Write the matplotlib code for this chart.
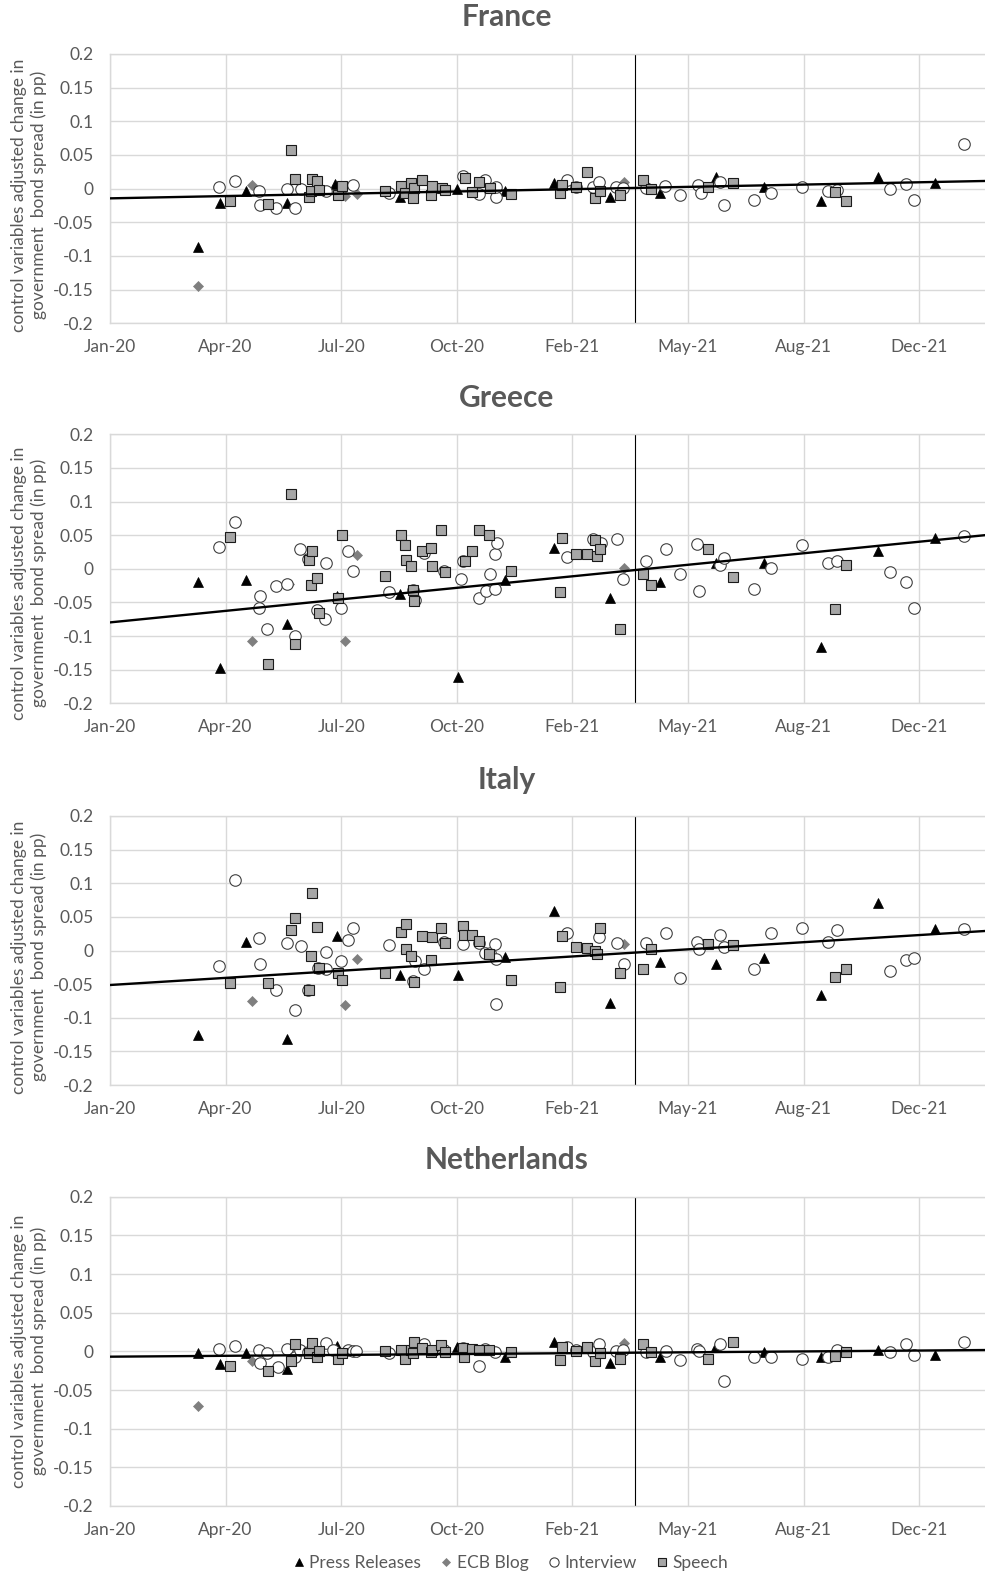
import matplotlib
matplotlib.use("Agg")
import matplotlib.pyplot as plt
from matplotlib.lines import Line2D

plt.rcParams['font.family'] = ['Lato', 'DejaVu Sans']

# ---------------- data (x = days since 1 Jan 2020) ----------------
x_ticks = [0, 100, 200, 300, 400, 500, 600, 700]
x_tick_labels = ["Jan-20", "Apr-20", "Jul-20", "Oct-20", "Feb-21", "May-21", "Aug-21", "Dec-21"]
y_ticks = [0.2, 0.15, 0.1, 0.05, 0, -0.05, -0.1, -0.15, -0.2]
y_tick_labels = ["0.2", "0.15", "0.1", "0.05", "0", "-0.05", "-0.1", "-0.15", "-0.2"]
x_max = 757
event_line_x = 454.4
trend_x = [0, 757]

countries = ["France", "Greece", "Italy", "Netherlands"]
series_names = ["Press Releases", "ECB Blog", "Interview", "Speech"]

# France
fr_press_x = [76, 95, 118, 153, 195, 251, 300, 342, 384, 433, 476, 524, 566, 615, 664, 714]
fr_press_y = [-0.086, -0.022, -0.003, -0.022, 0.007, -0.013, -0.001, -0.003, 0.009, -0.013, -0.007, 0.017, 0.002, -0.018, 0.017, 0.008]
fr_blog_x = [76, 123, 203, 214, 445]
fr_blog_y = [-0.144, 0.005, -0.011, -0.008, 0.010]
fr_int_x = [94, 108, 129, 130, 144, 153, 160, 165, 187, 210, 241, 305, 319, 324, 334, 334, 395, 403, 418, 423,
            438, 444, 464, 480, 493, 509, 511, 528, 531, 557, 572, 599, 621, 629, 675, 689, 696, 739]
fr_int_y = [0.003, 0.012, -0.003, -0.024, -0.029, -0.001, -0.029, -0.001, -0.003, 0.006, -0.007, 0.019, -0.008, 0.013, -0.012, 0.002, 0.013, 0.003, 0.002, 0.010,
            0.002, 0.001, 0.001, 0.004, -0.010, 0.006, -0.006, 0.010, -0.025, -0.017, -0.006, 0.003, -0.003, -0.002, -0.001, 0.007, -0.017, 0.067]
fr_sp_x = [104, 137, 157, 160, 172, 174, 175, 179, 181, 197, 201, 238, 252, 255, 260, 263, 262, 270, 278, 279,
           287, 290, 307, 313, 319, 329, 347, 389, 391, 403, 413, 420, 424, 441, 461, 468, 517, 539, 627, 637]
fr_sp_y = [-0.019, -0.023, 0.057, 0.014, -0.012, -0.003, 0.014, 0.011, -0.002, -0.009, 0.004, -0.003, 0.004, -0.006, 0.009, 0.0005, -0.014, 0.013, -0.009, 0.004,
           0.0005, -0.002, 0.016, -0.005, 0.010, 0.0015, -0.008, -0.007, 0.006, 0.002, 0.024, -0.014, -0.003, -0.010, 0.013, -0.0005, 0.003, 0.008, -0.0045, -0.018]
fr_trend_y = [-0.0144, 0.0114]

# Greece
gr_press_x = [76, 95, 118, 153, 196, 251, 301, 342, 384, 433, 476, 524, 566, 615, 664, 714]
gr_press_y = [-0.020, -0.148, -0.017, -0.082, -0.040, -0.038, -0.161, -0.017, 0.031, -0.043, -0.020, 0.008, 0.008, -0.116, 0.026, 0.046]
gr_blog_x = [123, 155, 203, 214, 445]
gr_blog_y = [-0.108, -0.023, -0.108, 0.021, 0.001]
gr_int_x = [94, 108, 130, 129, 136, 144, 153, 160, 164, 171, 179, 186, 187, 200, 206, 210, 241, 262, 264, 272,
            289, 304, 305, 319, 325, 329, 333, 333, 335, 395, 418, 425, 439, 444, 464, 481, 493, 508, 510, 528,
            531, 557, 572, 599, 621, 629, 675, 689, 696, 739]
gr_int_y = [0.033, 0.069, -0.040, -0.059, -0.089, -0.025, -0.022, -0.0995, 0.029, 0.014, -0.062, -0.074, 0.009, -0.058, 0.027, -0.003, -0.035, -0.031, -0.046, 0.023,
            -0.003, -0.015, 0.011, -0.044, -0.033, -0.007, 0.022, -0.030, 0.038, 0.017, 0.044, 0.039, 0.045, -0.015, 0.012, 0.030, -0.008, 0.037, -0.033, 0.006,
            0.016, -0.030, 0.001, 0.035, 0.009, 0.012, -0.005, -0.020, -0.058, 0.0495]
gr_sp_x = [104, 137, 157, 160, 172, 174, 175, 179, 181, 197, 201, 238, 252, 255, 256, 260, 262, 263, 270, 278,
           279, 286, 290, 307, 313, 319, 328, 347, 389, 391, 403, 413, 420, 421, 424, 441, 461, 468, 517, 539,
           627, 637]
gr_sp_y = [0.048, -0.142, 0.111, -0.112, 0.013, -0.024, 0.027, -0.013, -0.065, -0.044, 0.051, -0.010, 0.051, 0.036, 0.013, 0.0045, -0.032, -0.0485, 0.027, 0.031,
           0.0045, 0.057, -0.0055, 0.011, 0.027, 0.057, 0.0505, -0.003, -0.035, 0.0465, 0.022, 0.022, 0.043, 0.019, 0.029, -0.089, -0.008, -0.024, 0.030, -0.012,
           -0.060, 0.005]
gr_trend_y = [-0.0797, 0.050]

# Italy
it_press_x = [76, 118, 153, 196, 251, 301, 342, 384, 433, 476, 524, 566, 615, 664, 714]
it_press_y = [-0.125, 0.012, -0.131, 0.022, -0.036, -0.037, -0.010, 0.059, -0.078, -0.017, -0.020, -0.011, -0.066, 0.070, 0.032]
it_blog_x = [123, 203, 214, 445]
it_blog_y = [-0.075, -0.081, -0.013, 0.0095]
it_int_x = [94, 108, 129, 130, 144, 153, 160, 165, 171, 180, 187, 187, 200, 206, 210, 241, 262, 264, 272, 289,
            305, 319, 324, 329, 333, 334, 334, 395, 423, 439, 445, 464, 481, 493, 508, 510, 528, 531, 557, 572,
            599, 621, 629, 675, 689, 696, 739]
it_int_y = [-0.023, 0.105, 0.018, -0.020, -0.059, 0.011, -0.088, 0.007, -0.058, -0.0265, -0.002, -0.028, -0.015, 0.016, 0.034, 0.008, -0.045, -0.016, -0.0275, 0.013,
            0.009, 0.011, -0.003, -0.004, 0.009, -0.079, -0.012, 0.0265, 0.0195, 0.0105, -0.020, 0.0105, 0.0265, -0.041, 0.013, 0.0015, 0.023, 0.0045, -0.028, 0.0255,
            0.033, 0.013, 0.0305, -0.031, -0.0145, -0.011, 0.032]
it_sp_x = [104, 137, 157, 160, 172, 174, 175, 179, 181, 197, 201, 238, 252, 256, 256, 260, 263, 270, 278, 279,
           286, 290, 305, 306, 313, 319, 328, 347, 389, 391, 403, 413, 420, 421, 424, 441, 461, 468, 517, 539,
           627, 637]
it_sp_y = [-0.048, -0.049, 0.031, 0.049, -0.059, -0.008, 0.085, 0.035, -0.0265, -0.034, -0.044, -0.034, 0.027, 0.039, 0.002, -0.008, -0.047, 0.022, -0.014, 0.0195,
           0.034, 0.0115, 0.037, 0.023, 0.023, 0.0145, -0.0057, -0.044, -0.054, 0.021, 0.0045, 0.004, -0.0005, -0.005, 0.033, -0.033, -0.028, 0.0015, 0.009, 0.008,
           -0.039, -0.028]
it_trend_y = [-0.0513, 0.029]

# Netherlands
nl_press_x = [76, 95, 118, 153, 196, 300, 342, 384, 433, 476, 524, 566, 615, 664, 714]
nl_press_y = [-0.0026, -0.017, -0.0017, -0.023, 0.007, 0.005, -0.007, 0.0125, -0.0147, -0.0078, 0.007, -0.0004, -0.0078, 0.0017, -0.0047]
nl_blog_x = [76, 123, 155, 203, 214, 445]
nl_blog_y = [-0.0707, -0.0125, 0.0026, -0.0026, -0.0004, 0.0103]
nl_int_x = [94, 108, 129, 130, 136, 145, 153, 160, 164, 171, 187, 193, 206, 210, 213, 241, 272, 289, 305, 319,
            324, 333, 395, 403, 418, 423, 438, 444, 464, 481, 493, 508, 510, 528, 531, 557, 572, 599, 621, 629,
            675, 689, 696, 739]
nl_int_y = [0.0026, 0.007, 0.0017, -0.0155, -0.0026, -0.0198, 0.003, -0.007, 0.0017, -0.0004, 0.0103, 0.0017, 0.0017, 0.0004, 0.0004, -0.0026, 0.0095, 0.0017, 0.004, -0.019,
            0.0026, -0.0004, 0.006, 0.0017, -0.0004, 0.009, 0.0009, 0.0017, -0.0013, 0.0004, -0.011, 0.003, 0.0004, 0.0095, -0.038, -0.0069, -0.0069, -0.0099, -0.0078, 0.0017,
            -0.0013, 0.009, -0.0047, 0.0116]
nl_sp_x = [104, 137, 157, 160, 172, 175, 179, 181, 197, 201, 238, 252, 255, 260, 262, 263, 270, 278, 279, 286,
           290, 305, 306, 313, 319, 328, 347, 389, 391, 403, 413, 420, 424, 441, 461, 468, 517, 539, 627, 637]
nl_sp_y = [-0.019, -0.0254, -0.012, 0.009, -0.0026, 0.0112, -0.0069, 0.0009, -0.0099, -0.0026, 0.0004, 0.0017, -0.0099, 0.0017, -0.0026, 0.0125, 0.004, -0.0013, 0.0017, 0.008,
           -0.0013, 0.004, -0.0069, 0.0026, 0.0017, 0.0017, -0.0004, -0.011, 0.005, 0.0009, 0.006, -0.0125, -0.0026, -0.0099, 0.009, -0.0004, -0.0099, 0.0116, -0.006, -0.0004]
nl_trend_y = [-0.0069, 0.0017]

# ---------------- styling ----------------
W, H = 985, 1578
TXT = "#595959"
GRID = "#d9d9d9"
FS = 12.5

styles = {
    "Press Releases": dict(marker="^", ms=7.6, mfc="black", mec="black", mew=0.5),
    "ECB Blog": dict(marker="D", ms=5, mfc="#7f7f7f", mec="#7f7f7f", mew=0.5),
    "Interview": dict(marker="o", ms=8.3, mfc="white", mec="#404040", mew=0.8),
    "Speech": dict(marker="s", ms=7.5, mfc="#a6a6a6", mec="#1a1a1a", mew=0.8),
}

panels = [
    ("France", 54, 323.3, 195, [(fr_press_x, fr_press_y), (fr_blog_x, fr_blog_y), (fr_int_x, fr_int_y), (fr_sp_x, fr_sp_y)], fr_trend_y),
    ("Greece", 434.3, 703.3, 583, [(gr_press_x, gr_press_y), (gr_blog_x, gr_blog_y), (gr_int_x, gr_int_y), (gr_sp_x, gr_sp_y)], gr_trend_y),
    ("Italy", 816, 1085, 957, [(it_press_x, it_press_y), (it_blog_x, it_blog_y), (it_int_x, it_int_y), (it_sp_x, it_sp_y)], it_trend_y),
    ("Netherlands", 1196.7, 1506, 1351, [(nl_press_x, nl_press_y), (nl_blog_x, nl_blog_y), (nl_int_x, nl_int_y), (nl_sp_x, nl_sp_y)], nl_trend_y),
]

fig = plt.figure(figsize=(W / 100, H / 100), dpi=100)
fig.patch.set_facecolor("white")

left_px, right_px = 110, 985
for title, top, bot, ylab_c, series, trend_y in panels:
    ax = fig.add_axes([left_px / W, 1 - bot / H, (right_px - left_px) / W, (bot - top) / H])
    ax.set_xlim(0, x_max)
    ax.set_ylim(-0.2, 0.2)
    ax.set_xticks(x_ticks)
    ax.set_xticklabels(x_tick_labels)
    ax.set_yticks(y_ticks)
    ax.set_yticklabels(y_tick_labels)
    ax.tick_params(axis="both", length=0, labelsize=FS, labelcolor=TXT)
    ax.tick_params(axis="x", pad=11.5)
    ax.tick_params(axis="y", pad=12)
    ax.grid(True, color=GRID, lw=1.0, zorder=0)
    ax.set_axisbelow(True)
    for side in ["top", "left", "bottom"]:
        ax.spines[side].set_color(GRID)
        ax.spines[side].set_linewidth(1.0)
    ax.spines["right"].set_visible(False)

    for name, (xs, ys) in zip(series_names, series):
        ax.plot(xs, ys, linestyle="none", zorder=3, clip_on=False, **styles[name])

    ax.axvline(event_line_x, color="black", lw=0.8, zorder=2)
    ax.plot(trend_x, trend_y, color="black", lw=1.7, zorder=4)

    # title
    fig.text(507 / W, 1 - (top - 27.5) / H, title, ha="center", va="baseline",
             fontsize=21.5, fontweight="bold", color=TXT)
    # y label
    fig.text(29 / W, 1 - ylab_c / H,
             "control variables adjusted change in\ngovernment  bond spread (in pp)",
             rotation=90, ha="center", va="center", multialignment="center",
             fontsize=FS, color=TXT, linespacing=1.2)

# legend
handles = [Line2D([], [], linestyle="none", **{**styles[n], "ms": styles[n]["ms"] * 0.8}) for n in series_names]
fig.legend(handles, series_names, loc="center", bbox_to_anchor=(510 / W, 1 - 1563 / H), ncol=4,
           frameon=False, fontsize=FS, labelcolor=TXT, handlelength=0.8, handletextpad=0.2,
           columnspacing=1.05, borderpad=0)

fig.savefig("out.png", dpi=100, facecolor="white")
